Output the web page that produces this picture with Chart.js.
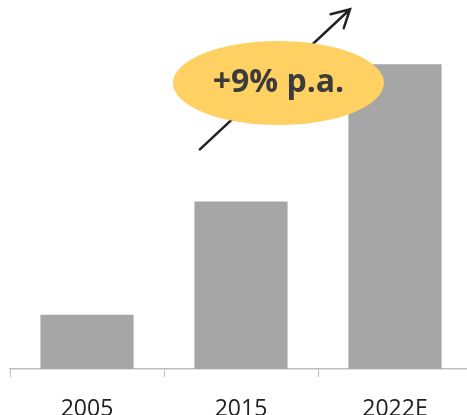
<!DOCTYPE html>
<html>
<head>
<meta charset="utf-8">
<script src="https://cdn.jsdelivr.net/npm/chart.js@4"></script>
<style>
  html, body { margin: 0; padding: 0; background: #fff; overflow: hidden; }
  #wrap { width: 472px; height: 440px; }
</style>
</head>
<body>
<div id="wrap"><canvas id="growth-bar-chart"></canvas></div>
<script>
    "use strict";

    // Data
    var years = ["2005", "2015", "2022E"];
    var values = [54, 167, 304];
    var growthLabel = "+9% p.a.";

    // Arrow + bubble annotation
    var cagrBubble = {
        id: "cagrBubble",
        afterDatasetsDraw: function (chart) {
            var ctx = chart.ctx;
            var a = chart.chartArea;
            var w = a.right - a.left, h = a.bottom - a.top;

            // arrow
            var x1 = a.left + w * 0.411, y1 = a.top + h * 0.405;
            var x2 = a.left + w * 0.736, y2 = a.top + h * 0.025;
            ctx.save();
            ctx.strokeStyle = "#222";
            ctx.lineWidth = 2.5;
            ctx.lineCap = "round";
            ctx.beginPath();
            ctx.moveTo(x1, y1);
            ctx.lineTo(x2, y2);
            var ang = Math.atan2(y2 - y1, x2 - x1);
            var len = 20;
            ctx.moveTo(x2 - len * Math.cos(ang - 0.5), y2 - len * Math.sin(ang - 0.5));
            ctx.lineTo(x2, y2);
            ctx.lineTo(x2 - len * Math.cos(ang + 0.5), y2 - len * Math.sin(ang + 0.5));
            ctx.stroke();

            // ellipse
            var cx = a.left + w * 0.581, cy = a.top + h * 0.225;
            ctx.fillStyle = "#ffd163";
            ctx.beginPath();
            ctx.ellipse(cx, cy, 105.5, 42, 0, 0, Math.PI * 2);
            ctx.fill();

            ctx.fillStyle = "#3b3b3b";
            ctx.font = "bold 32px 'Open Sans'";
            ctx.textAlign = "center";
            ctx.textBaseline = "middle";
            ctx.fillText(growthLabel, cx, cy);
            ctx.restore();
        }
    };

    var ctx1 = document.getElementById("growth-bar-chart").getContext("2d");
    var myChart1 = new Chart(ctx1, {
        type: "bar",
        data: {
            labels: years,
            datasets: [{
                label: "Growth",
                backgroundColor: "#a6a6a6",
                data: values,
                categoryPercentage: 1,
                barPercentage: 0.605
            }]
        },
        options: {
            responsive: true,
            maintainAspectRatio: false,
            animation: false,
            layout: { padding: { left: 10, right: 0, top: 0, bottom: 0 } },
            plugins: {
                legend: { display: false },
                tooltip: { enabled: false }
            },
            scales: {
                y: {
                    display: false,
                    min: 0,
                    max: 368
                },
                x: {
                    afterFit: function (scale) {
                        scale.height = 71;
                    },
                    grid: {
                        offset: true,
                        drawOnChartArea: false,
                        color: "#bfbfbf",
                        tickLength: 8
                    },
                    border: { color: "#bfbfbf", width: 1.5 },
                    ticks: {
                        color: "#222",
                        padding: 19,
                        font: { family: "'Open Sans'", size: 23 }
                    }
                }
            }
        },
        plugins: [cagrBubble]
    });
</script>
</body>
</html>
